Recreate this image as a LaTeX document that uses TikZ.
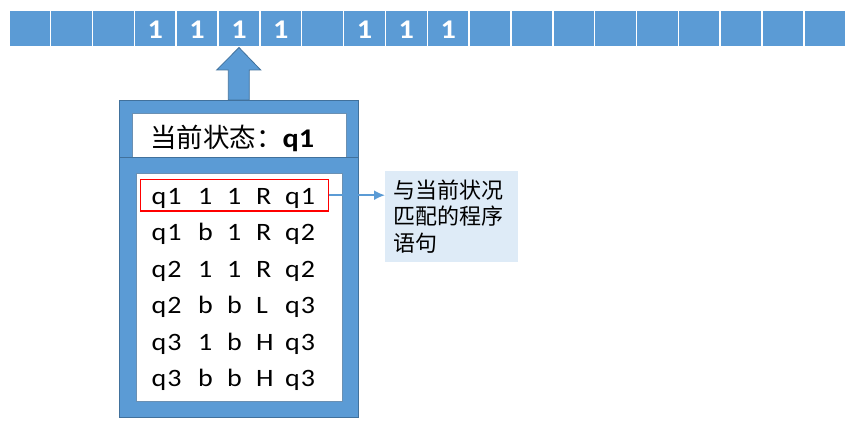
\documentclass[tikz,border=0pt]{standalone}
\usepackage{fontspec}
\usetikzlibrary{arrows.meta}
\setmainfont{Carlito}
\newfontfamily\rowfont[FakeStretch=1.12,LetterSpace=4]{Carlito}
\newfontfamily\tapefont[FakeStretch=1.12]{Carlito}
\newfontfamily\cjk{Noto Sans CJK SC}
\definecolor{tblue}{HTML}{5B9BD5}
\definecolor{tdark}{HTML}{41719C}
\definecolor{notefill}{HTML}{DEEBF7}
\newcommand\tmrow[5]{\makebox[46.5pt][l]{#1}\makebox[29pt][l]{#2}\makebox[29pt][l]{#3}\makebox[29pt][l]{#4}#5}
\begin{document}
\begin{tikzpicture}[x=1pt,y=-1pt,
  cell/.style={fill=tblue,draw=white,line width=1.5pt,minimum width=41.85pt,minimum height=36pt,inner sep=0pt,anchor=north west,
    text height=20pt,text depth=0pt,font=\tapefont\fontsize{27}{27}\selectfont\bfseries,text=white},
  frame/.style={fill=tblue,draw=tdark,line width=0.8pt},
  inner/.style={fill=white,draw=tblue!60!gray,line width=0.5pt},
  row/.style={anchor=base west,inner sep=0pt,font=\rowfont\fontsize{25}{25}\selectfont},
  ptr/.style={draw=tblue,line width=2pt,-{Latex[length=11pt,width=10pt]}}]
\useasboundingbox (0,0) rectangle (859,425);
% tape
\foreach \i/\t in {0/,1/,2/,3/1,4/1,5/1,6/1,7/,8/1,9/1,10/1,11/,12/,13/,14/,15/,16/,17/,18/,19/}{
  \node[cell] (c\i) at ({8+41.85*\i},10) {\t};
}
% head arrow
\filldraw[fill=tblue,draw=tdark,line width=0.8pt]
  (228.3,100) -- (228.3,70) -- (216.7,70) -- (239,47.5) -- (260.7,70) -- (249.3,70) -- (249.3,100) -- cycle;
% upper box (state)
\draw[frame] (119,100) rectangle (358,170);
\draw[inner] (132,113) rectangle (346,165);
\node[anchor=base west,inner sep=0pt] (state) at (150,147.3)
  {{\cjk\fontsize{26.5}{26.5}\selectfont 当前状态：}{\tapefont\fontsize{27}{27}\selectfont\bfseries q1}};
% lower box (program)
\draw[frame] (119,157) rectangle (358,417);
\draw[inner] (136,173) rectangle (342,401);
\node[row] (r1) at (151.4,204.3) {\tmrow{q1}{1}{1}{R}{q1}};
\node[row] (r2) at (151.4,240.7) {\tmrow{q1}{b}{1}{R}{q2}};
\node[row] (r3) at (151.4,277.0) {\tmrow{q2}{1}{1}{R}{q2}};
\node[row] (r4) at (151.4,313.4) {\tmrow{q2}{b}{b}{L}{q3}};
\node[row] (r5) at (151.4,350.0) {\tmrow{q3}{1}{b}{H}{q3}};
\node[row] (r6) at (151.4,386.5) {\tmrow{q3}{b}{b}{H}{q3}};
% selection
\node[draw=red,line width=1.5pt,minimum width=187.6pt,minimum height=31.7pt,inner sep=0pt] (sel) at (234.5,195.2) {};
% note
\node[fill=notefill,anchor=north west,minimum width=133pt,minimum height=91pt,text width=117pt,inner xsep=8pt,align=left,
  font=\cjk\fontsize{22}{26.7}\selectfont] (note) at (385,170.7) {与当前状况\\匹配的程序\\语句};
\draw[ptr] (sel.east) -- (note.west |- sel.east);
\end{tikzpicture}
\end{document}
